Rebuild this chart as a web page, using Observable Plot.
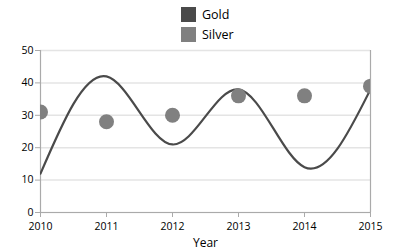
<!DOCTYPE html>
<html>
<head>
<meta charset="utf-8">
<script src="https://cdn.jsdelivr.net/npm/d3@7"></script>
<script src="https://cdn.jsdelivr.net/npm/@observablehq/plot@0.6"></script>
<style>
  html, body { margin: 0; padding: 0; background: #fff; }
  body { width: 393px; height: 251px; overflow: hidden; font-family: "Open Sans", "Noto Sans", sans-serif; }
  #legend { height: 40px; position: relative; }
  .item { position: absolute; left: 181px; display: flex; align-items: center; font-size: 12.5px; color: #000; }
  .sw { width: 15px; height: 15px; margin-right: 6px; }
  svg text { font-family: "Open Sans", "Noto Sans", sans-serif; }
</style>
</head>
<body>
<div id="legend"></div>
<div id="chart"></div>
<script>
const years = [2010, 2011, 2012, 2013, 2014, 2015];
const gold = [12, 42, 21, 38, 14, 38];
const silver = [31, 28, 30, 36, 36, 39];
const seriesNames = ["Gold", "Silver"];
const seriesColors = ["#4a4a4a", "#808080"];
const yTicks = [0, 10, 20, 30, 40, 50];

const goldRows = years.map((y, i) => ({year: y, value: gold[i]}));
const silverRows = years.map((y, i) => ({year: y, value: silver[i]}));

// legend
const legend = document.getElementById("legend");
seriesNames.forEach((name, i) => {
  const item = document.createElement("div");
  item.className = "item";
  item.style.top = (6 + i * 20) + "px";
  const sw = document.createElement("div");
  sw.className = "sw";
  sw.style.background = seriesColors[i];
  item.appendChild(sw);
  item.appendChild(document.createTextNode(name));
  legend.appendChild(item);
});

const chart = Plot.plot({
  width: 393,
  height: 211,
  marginLeft: 40,
  marginRight: 23,
  marginTop: 10,
  marginBottom: 39,
  style: {fontSize: "10.5px", color: "#000", background: "#fff"},
  x: {domain: [2010, 2015], ticks: years, tickFormat: d => String(d), label: null},
  y: {domain: [0, 50], ticks: yTicks, label: null},
  marks: [
    Plot.gridY(yTicks, {stroke: "#e4e4e4", strokeOpacity: 1, strokeWidth: 1.5}),
    Plot.ruleX([2010, 2015], {stroke: "#aaaaaa", strokeWidth: 1.2}),
    Plot.ruleY([0], {stroke: "#aaaaaa", strokeWidth: 1.2}),
    Plot.axisX({ticks: years, tickFormat: d => String(d), tickSize: 5, stroke: "#aaaaaa", tickPadding: 5, fill: "#000", label: null}),
    Plot.axisY({ticks: yTicks, tickSize: 5, stroke: "#aaaaaa", tickPadding: 2, fill: "#000", label: null}),
    Plot.text(["Year"], {frameAnchor: "bottom", dy: 34, fontSize: 12, fill: "#000"}),
    Plot.line(goldRows, {x: "year", y: "value", stroke: seriesColors[0], strokeWidth: 2.2, curve: "natural", clip: true}),
    Plot.dot(silverRows, {x: "year", y: "value", r: 7.5, fill: seriesColors[1], stroke: "none", clip: true})
  ]
});
document.getElementById("chart").appendChild(chart);
</script>
</body>
</html>
